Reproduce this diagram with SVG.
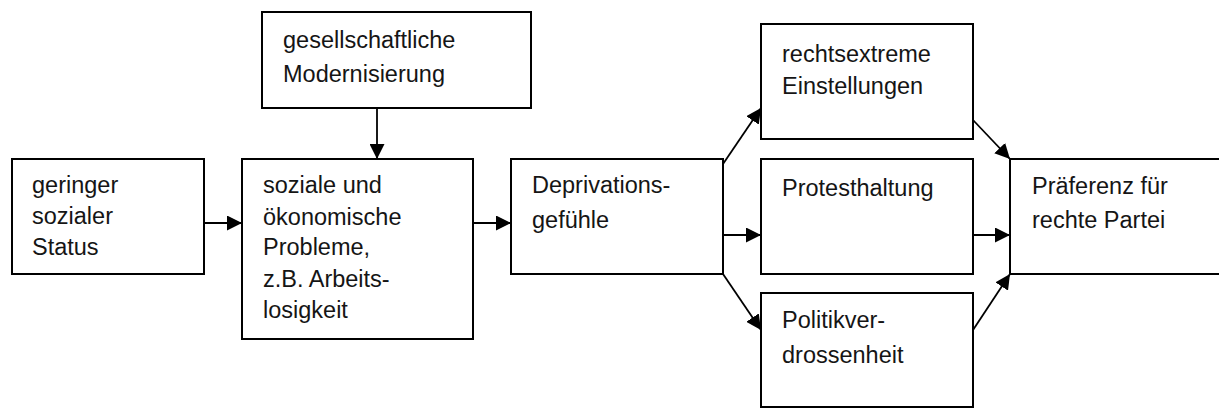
<svg xmlns="http://www.w3.org/2000/svg" width="1219" height="408" viewBox="0 0 1219 408">
<style>
.box{fill:#fff;stroke:#000;stroke-width:2}
.lbl{font-family:"Liberation Sans",Arial,sans-serif;font-size:23.5px;fill:#151515}
.con{stroke:#000;stroke-width:1.8;fill:none;marker-end:url(#ah)}
</style>
<defs>
<marker id="ah" viewBox="0 0 10 10" refX="10" refY="5" markerWidth="15" markerHeight="15" markerUnits="userSpaceOnUse" orient="auto">
<path d="M0,0 L10,5 L0,10 z" fill="#000"/>
</marker>
</defs>
<rect width="1219" height="408" fill="#fff"/>
<g id="connectors">
<line class="con" x1="377" y1="108" x2="377" y2="159"/>
<line class="con" x1="204" y1="223" x2="242" y2="223"/>
<line class="con" x1="473" y1="223" x2="511" y2="223"/>
<line class="con" x1="723" y1="164" x2="761" y2="108"/>
<line class="con" x1="723" y1="235" x2="761" y2="235"/>
<line class="con" x1="723" y1="274" x2="761" y2="330"/>
<line class="con" x1="973" y1="120" x2="1010" y2="159"/>
<line class="con" x1="973" y1="235" x2="1010" y2="235"/>
<line class="con" x1="973" y1="330" x2="1010" y2="274"/>
</g>
<g id="n-status">
<rect class="box" x="12" y="159" width="192" height="115"/>
<text class="lbl" x="32" y="193">geringer</text>
<text class="lbl" x="32" y="224">sozialer</text>
<text class="lbl" x="32" y="255">Status</text>
</g>
<g id="n-probleme">
<rect class="box" x="242" y="159" width="231" height="180"/>
<text class="lbl" x="263" y="193">soziale und</text>
<text class="lbl" x="263" y="225">ökonomische</text>
<text class="lbl" x="263" y="255">Probleme,</text>
<text class="lbl" x="263" y="287">z.B. Arbeits-</text>
<text class="lbl" x="263" y="318">losigkeit</text>
</g>
<g id="n-modernisierung">
<rect class="box" x="262" y="12" width="269" height="96"/>
<text class="lbl" x="283" y="48">gesellschaftliche</text>
<text class="lbl" x="283" y="82">Modernisierung</text>
</g>
<g id="n-deprivation">
<rect class="box" x="511" y="159" width="212" height="115"/>
<text class="lbl" x="532" y="193">Deprivations-</text>
<text class="lbl" x="532" y="228">gefühle</text>
</g>
<g id="n-rechtsextrem">
<rect class="box" x="761" y="24" width="212" height="115"/>
<text class="lbl" x="782" y="62">rechtsextreme</text>
<text class="lbl" x="782" y="94">Einstellungen</text>
</g>
<g id="n-protest">
<rect class="box" x="761" y="159" width="212" height="115"/>
<text class="lbl" x="782" y="196">Protesthaltung</text>
</g>
<g id="n-politik">
<rect class="box" x="761" y="293" width="212" height="114"/>
<text class="lbl" x="782" y="328">Politikver-</text>
<text class="lbl" x="782" y="363">drossenheit</text>
</g>
<g id="n-praeferenz">
<path class="box" d="M1219,159 H1010 V274 H1219"/>
<text class="lbl" x="1032" y="194">Präferenz für</text>
<text class="lbl" x="1032" y="228">rechte Partei</text>
</g>
</svg>
